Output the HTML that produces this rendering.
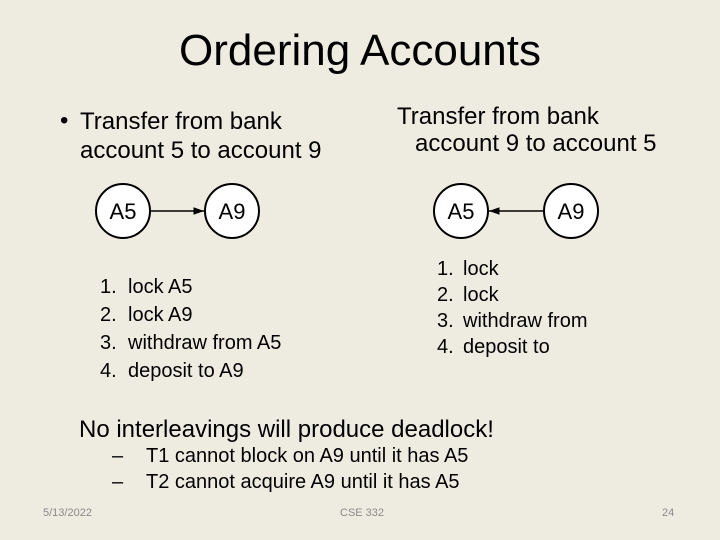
<!DOCTYPE html>
<html><head><style>
body{margin:0}
#s{position:relative;width:720px;height:540px;background:#EEECE1;font-family:"Liberation Sans",Arial,sans-serif;color:#000;overflow:hidden}
.t{position:absolute;white-space:nowrap}
.f{font-size:11px;color:#8a8a8a}
</style></head><body><div id="s">
<div class="t" style="left:0;width:720px;text-align:center;top:26px;font-size:44px">Ordering Accounts</div>
<div class="t" style="left:60px;top:107px;font-size:24px">•</div>
<div class="t" style="left:80px;top:107px;font-size:24px;line-height:29px">Transfer from bank<br>account 5 to account 9</div>
<div class="t" style="left:397px;top:103px;font-size:24px;line-height:27px">Transfer from bank</div>
<div class="t" style="left:415px;top:130px;font-size:24px;line-height:27px">account 9 to account 5</div>
<svg class="t" style="left:0;top:0" width="720" height="540">
<defs><marker id="a" markerWidth="8" markerHeight="8" refX="7" refY="4" orient="auto"><path d="M0,1.5 L7,4 L0,6.5z" fill="#000"/></marker></defs>
<g fill="#fff" stroke="#000" stroke-width="2">
<circle cx="123" cy="211" r="27"/><circle cx="232" cy="211" r="27"/>
<circle cx="461" cy="211" r="27"/><circle cx="571" cy="211" r="27"/></g>
<line x1="150" y1="211" x2="204" y2="211" stroke="#000" stroke-width="1.5" marker-end="url(#a)"/>
<line x1="544" y1="211" x2="489" y2="211" stroke="#000" stroke-width="1.5" marker-end="url(#a)"/>
<g font-size="22" text-anchor="middle" font-family="Liberation Sans,Arial,sans-serif">
<text x="123" y="219">A5</text><text x="232" y="219">A9</text>
<text x="461" y="219">A5</text><text x="571" y="219">A9</text></g>
</svg>
<div class="t" style="left:100px;top:273px;font-size:20px;line-height:28px">1.<br>2.<br>3.<br>4.</div>
<div class="t" style="left:128px;top:273px;font-size:20px;line-height:28px">lock A5<br>lock A9<br>withdraw from A5<br>deposit to A9</div>
<div class="t" style="left:437px;top:256px;font-size:20px;line-height:26px">1.<br>2.<br>3.<br>4.</div>
<div class="t" style="left:463px;top:256px;font-size:20px;line-height:26px">lock<br>lock<br>withdraw from<br>deposit to</div>
<div class="t" style="left:79px;top:416px;font-size:24px">No interleavings will produce deadlock!</div>
<div class="t" style="left:112px;top:443px;font-size:20px;line-height:26px">–<br>–</div>
<div class="t" style="left:146px;top:443px;font-size:20px;line-height:26px">T1 cannot block on A9 until it has A5<br>T2 cannot acquire A9 until it has A5</div>
<div class="t f" style="left:43px;top:507px">5/13/2022</div>
<div class="t f" style="left:340px;top:507px">CSE 332</div>
<div class="t f" style="left:662px;top:507px">24</div>
</div></body></html>
